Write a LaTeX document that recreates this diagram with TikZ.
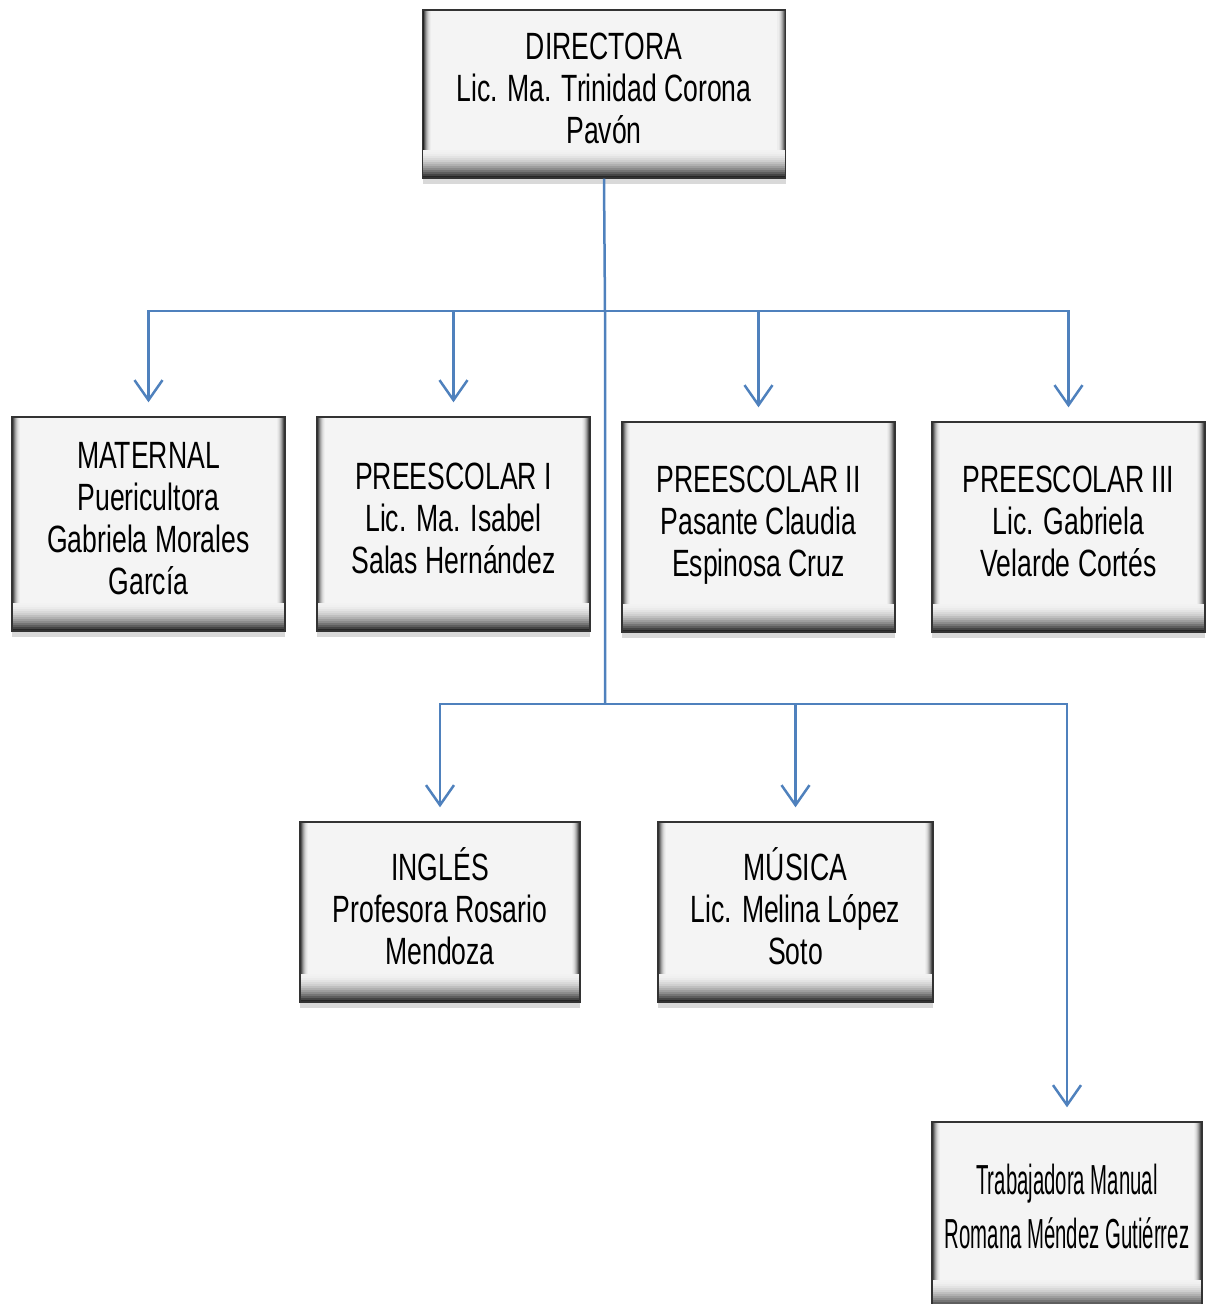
\documentclass[tikz,border=0pt]{standalone}
\usepackage{fontspec}
\setmainfont{Liberation Sans}[FakeStretch=0.7]
\newfontfamily\narrowfont{Liberation Sans}[FakeStretch=0.485]
\usepackage{tikz}
\usepackage{xcolor}
\usetikzlibrary{shadows}
\usetikzlibrary{positioning, fit, arrows.meta}

\definecolor{linkblue}{RGB}{79,129,189}
\definecolor{boxface}{RGB}{244,244,244}

\begin{document}
\begin{tikzpicture}[x=1pt, y=-1pt, thick,
    box/.style = {draw=black!80, line width=1.4pt, fill=boxface, align=center, inner sep=4pt,
        font=\fontsize{38}{42}\selectfont, text depth=12pt,
        drop shadow={shadow xshift=0pt, shadow yshift=-6pt, opacity=.3},
        path picture={
            % side bevels
            \foreach \k in {0,...,7}{
                \pgfmathtruncatemacro{\bev}{6+80*(1-\k/8)^2}
                \fill[black!\bev] ([xshift=\k*1pt]path picture bounding box.south west) rectangle ([xshift=\k*1pt+1.2pt]path picture bounding box.north west);
                \fill[black!\bev] ([xshift=-\k*1pt]path picture bounding box.south east) rectangle ([xshift=-\k*1pt-1.2pt]path picture bounding box.north east);
            }
            % bottom bevel
            \foreach \k in {0,...,13}{
                \pgfmathtruncatemacro{\bev}{5+80*(1-\k/14)^2}
                \fill[black!\bev] ([yshift=\k*2pt]path picture bounding box.south west) rectangle ([yshift=\k*2pt+2.2pt]path picture bounding box.south east);
            }
        }},
    link/.style = {draw=linkblue, line width=2.5pt},
    arr/.style = {link, -{Straight Barb[length=20pt, width=28pt]}, shorten >=14pt}]
                \useasboundingbox (0,0) rectangle (1208,1304);

                % Nodes
                \node[box, minimum width=363pt, minimum height=168pt] (dir) at (604,94) {DIRECTORA\\Lic. Ma. Trinidad Corona\\Pavón};

                \node[box, minimum width=273pt, minimum height=214pt] (mat) at (148.5,524) {MATERNAL\\Puericultora\\Gabriela Morales\\García};
                \node[box, minimum width=273pt, minimum height=214pt] (pre1) at (453.5,524) {PREESCOLAR I\\Lic. Ma. Isabel\\Salas Hernández};
                \node[box, minimum width=273pt, minimum height=210pt] (pre2) at (758.5,527) {PREESCOLAR II\\Pasante Claudia\\Espinosa Cruz};
                \node[box, minimum width=273pt, minimum height=210pt] (pre3) at (1068.5,527) {PREESCOLAR III\\Lic. Gabriela\\Velarde Cortés};

                \node[box, minimum width=280pt, minimum height=180pt] (ing) at (440,912) {INGLÉS\\Profesora Rosario\\Mendoza};
                \node[box, minimum width=275pt, minimum height=180pt] (mus) at (795.5,912) {MÚSICA\\Lic. Melina López\\Soto};

                \node[box, minimum width=270pt, minimum height=186pt, text depth=18pt, font=\narrowfont\fontsize{42}{54}\selectfont] (trab) at (1067,1215) {Trabajadora Manual\\Romana Méndez Gutiérrez};

                % Junctions
                \coordinate (j1) at (605,311);
                \coordinate (j2) at (605,704);

                % Lines
                \draw[link] (dir.south) -- (j1) -- (j2);
                \draw[arr] (j1) -| (mat.north);
                \draw[arr] (j1) -| (pre1.north);
                \draw[arr] (j1) -| (pre2.north);
                \draw[arr] (j1) -| (pre3.north);
                \draw[arr] (j2) -| (ing.north);
                \draw[arr] (j2) -| (mus.north);
                \draw[arr] (j2) -| (trab.north);

            \end{tikzpicture}
\end{document}
